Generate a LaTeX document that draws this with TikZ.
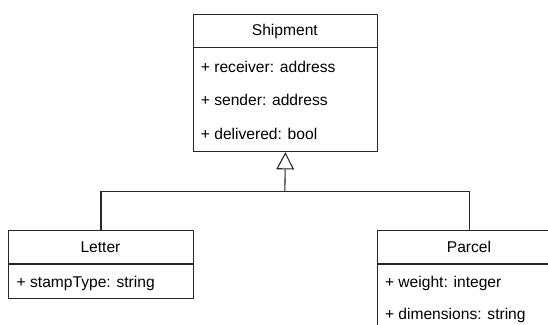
\documentclass[tikz,border=0pt]{standalone}
\usepackage{fontspec}
\setmainfont{Liberation Sans}
\usetikzlibrary{arrows.meta}
\begin{document}
\begin{tikzpicture}[x=1pt,y=1pt,
  umlbox/.style={draw=black!85,line width=1.1pt,rectangle,inner sep=0pt,anchor=north west,minimum width=184.3pt},
  sepline/.style={draw=black!85,line width=1.1pt},
  attr/.style={anchor=west,inner sep=0pt,font=\fontsize{15.6}{18}\selectfont},
  title/.style={anchor=center,inner sep=0pt,font=\fontsize{15.6}{18}\selectfont},
  conn/.style={draw=black!85,line width=1.1pt}]
\useasboundingbox (0,0) rectangle (548,-324);
\clip (0,0) rectangle (548,-324);
\fill[white] (0,0) rectangle (548,-324);
% Shipment
\node[umlbox,minimum height=137pt] (ship) at (192.7,-14) {};
\draw[sepline] (192.7,-47.7) -- (377,-47.7);
\node[title] (shipt) at (284.85,-31) {Shipment};
\node[attr] (a1) at (200.7,-66.7) {+ receiver: address};
\node[attr] (a2) at (200.7,-100.2) {+ sender: address};
\node[attr] (a3) at (200.7,-133.5) {+ delivered: bool};
% Letter
\node[umlbox,minimum height=67.5pt] (letter) at (8.3,-230) {};
\draw[sepline] (8.3,-264) -- (192.6,-264);
\node[title] (lettert) at (100.45,-247) {Letter};
\node[attr] (b1) at (16.5,-283.3) {+ stampType: string};
% Parcel
\node[umlbox,minimum height=110pt] (parcel) at (376.8,-230) {};
\draw[sepline] (376.8,-264) -- (561.1,-264);
\node[title] (parcelt) at (469.0,-247) {Parcel};
\node[attr] (c1) at (384.8,-283.3) {+ weight: integer};
\node[attr] (c2) at (384.8,-315.5) {+ dimensions: string};
% connectors
\coordinate (j) at (284.85,-191.7);
\draw[conn] (letter.north) |- (j) -| (parcel.north);
\draw[conn,-{Triangle[open,width=17.7pt,length=17.3pt,line width=1.1pt]}] (j) -- (ship.south);
\end{tikzpicture}
\end{document}
